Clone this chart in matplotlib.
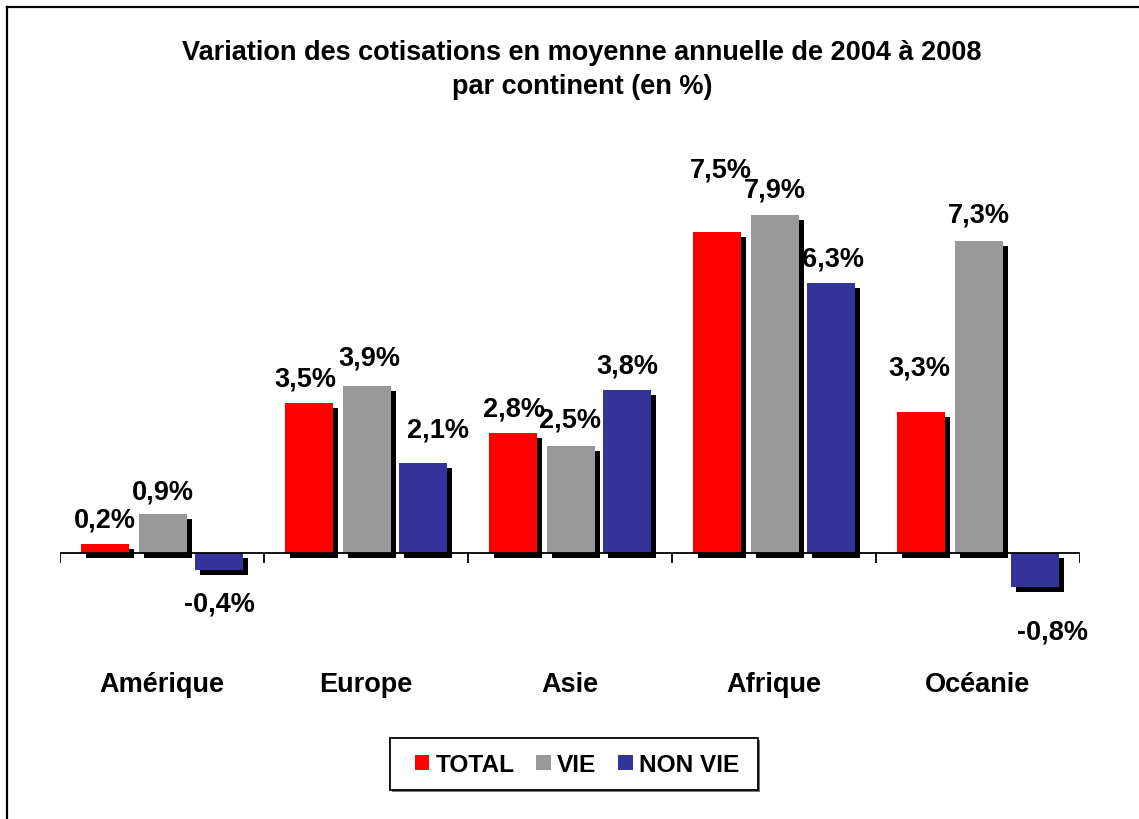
import matplotlib
matplotlib.use("Agg")
import matplotlib.pyplot as plt
import matplotlib.patheffects as pe
from matplotlib.lines import Line2D
from matplotlib.patches import Patch, Rectangle
import numpy as np

categories = ["Amérique", "Europe", "Asie", "Afrique", "Océanie"]
series_names = ["TOTAL", "VIE", "NON VIE"]
total = [0.2, 3.5, 2.8, 7.5, 3.3]
vie = [0.9, 3.9, 2.5, 7.9, 7.3]
non_vie = [-0.4, 2.1, 3.8, 6.3, -0.8]
title = "Variation des cotisations en moyenne annuelle de 2004 à 2008\npar continent (en %)"

colors = ["#FF0000", "#999999", "#333399"]
# label offsets in pixels (dx, dy) relative to bar end, per series per category
label_offsets = [
    [(0, 24), (-4, 24), (1, 24), (4, 62), (-2, 43)],
    [(0, 22), (2, 28), (-1, 25), (0, 24), (0, 25)],
    [(0, -34), (15, 33), (0, 24), (2, 24), (17, -45)],
]

plt.rcParams['font.family'] = ['Liberation Sans', 'DejaVu Sans']

W, H = 1139, 819
fig = plt.figure(figsize=(W / 100, H / 100), dpi=100)
fig.patch.set_facecolor("white")

# frame (only top and left visible)
fig.add_artist(Line2D([7 / W, 7 / W], [0, 1 - 7 / H], color="black", lw=1.6, transform=fig.transFigure))
fig.add_artist(Line2D([7 / W, 1], [1 - 7 / H, 1 - 7 / H], color="black", lw=1.6, transform=fig.transFigure))

# axes: zero line at y=553 px, 42.8 px per unit
ymin, ymax = -2.0, 9.0
scale = 42.8
zero_px = 553
top_px = zero_px - ymax * scale
bot_px = zero_px - ymin * scale
ax = fig.add_axes([60 / W, 1 - bot_px / H, 1020 / W, (bot_px - top_px) / H])
ax.set_xlim(0, len(categories))
ax.set_ylim(ymin, ymax)
ax.axis("off")

x = np.arange(len(categories)) + 0.5
offsets = [-0.28, 0.005, 0.28]
width = 0.232
all_series = [total, vie, non_vie]

shadow = [pe.SimplePatchShadow(offset=(3.6, -3.6), shadow_rgbFace="black", alpha=1.0), pe.Normal()]

for si, (vals, col, off) in enumerate(zip(all_series, colors, offsets)):
    bars = ax.bar(x + off, vals, width=width, color=col, zorder=3 + si)
    for b in bars:
        b.set_path_effects(shadow)
    for ci, (b, v) in enumerate(zip(bars, vals)):
        dx, dy = label_offsets[si][ci]
        ax.annotate(f"{v:.1f}%".replace(".", ","), xy=(b.get_x() + b.get_width() / 2, v),
                    xytext=(dx, dy), textcoords="offset pixels", ha="center", va="center",
                    fontsize=19.5, fontweight="bold", color="black", zorder=10)

# zero axis line with tick marks at group boundaries
ax.axhline(0, color="black", lw=1.3, zorder=8)
tick_len = 10 / scale
ax.vlines(np.arange(len(categories) + 1), -tick_len, 0, color="black", lw=1.3, zorder=8)

# category labels
for xi, c in zip(x, categories):
    ax.text(xi, (zero_px - 685) / scale, c, ha="center", va="center",
            fontsize=19.5, fontweight="bold")

fig.text((582 / W), 1 - 70 / H, title, ha="center", va="center", fontsize=19.5,
         fontweight="bold", linespacing=1.4)

# legend box
box = Rectangle((390 / W, 1 - 790 / H), 368 / W, 52 / H, transform=fig.transFigure,
                facecolor="white", edgecolor="black", lw=1.3, zorder=5)
box.set_path_effects([pe.SimplePatchShadow(offset=(1.2, -1.2), shadow_rgbFace="#777777", alpha=1.0), pe.Normal()])
fig.add_artist(box)

handles = [Patch(facecolor=c, edgecolor="none") for c in colors]
leg = fig.legend(handles, series_names, loc="center", bbox_to_anchor=(577 / W, 1 - 765 / H),
                 ncol=3, frameon=False,
                 prop={"weight": "bold", "size": 17.6}, handlelength=0.58, handleheight=0.58,
                 handletextpad=0.27, columnspacing=0.9, borderpad=0.2)
leg.set_zorder(6)

fig.savefig("out.png", dpi=100, facecolor="white")
